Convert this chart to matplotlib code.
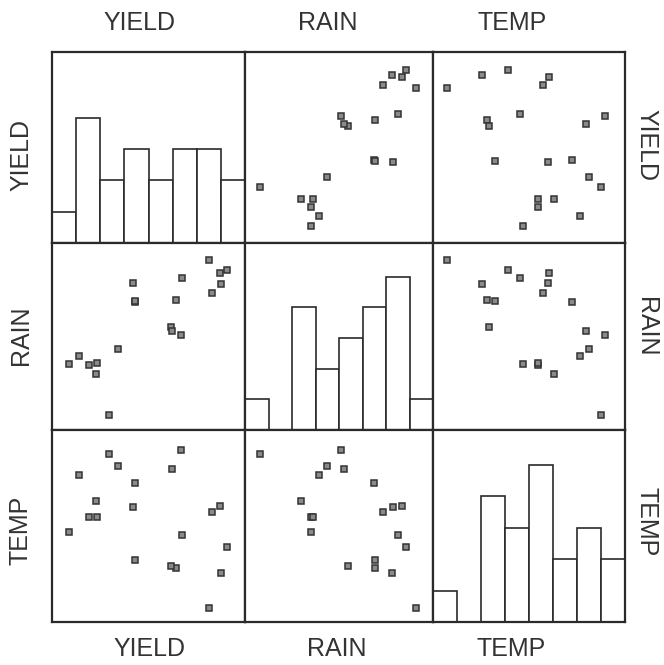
import matplotlib
matplotlib.use("Agg")
import matplotlib.pyplot as plt
import numpy as np

variables = ["YIELD", "RAIN", "TEMP"]

yield_vals = [0.811, 0.868, 0.907, 0.877, 0.828, 0.676, 0.644, 0.422, 0.432, 0.429,
              0.615, 0.621, 0.667, 0.343, 0.141, 0.089, 0.191, 0.232, 0.229, 0.293]
rain_vals = [0.910, 0.837, 0.855, 0.780, 0.735, 0.815, 0.693, 0.787, 0.686, 0.690,
             0.550, 0.527, 0.510, 0.435, 0.395, 0.352, 0.350, 0.360, 0.300, 0.080]
temp_vals = [0.075, 0.604, 0.391, 0.256, 0.574, 0.454, 0.279, 0.598, 0.725, 0.325,
             0.290, 0.795, 0.895, 0.813, 0.764, 0.468, 0.545, 0.548, 0.628, 0.877]

data = {"YIELD": yield_vals, "RAIN": rain_vals, "TEMP": temp_vals}
n_bins = 8

W, H = 664, 665
fig = plt.figure(figsize=(W / 100, H / 100), dpi=100)
fig.patch.set_facecolor("white")

col_edges = [52, 245, 433, 625]
row_edges = [52, 243, 430, 622]
ink = "#2a2a2a"

for r, vy in enumerate(variables):
    for c, vx in enumerate(variables):
        x0, x1 = col_edges[c], col_edges[c + 1]
        y0, y1 = row_edges[r], row_edges[r + 1]
        ax = fig.add_axes([x0 / W, 1 - y1 / H, (x1 - x0) / W, (y1 - y0) / H])
        ax.set_xlim(0, 1)
        ax.set_xticks([])
        ax.set_yticks([])
        for s in ax.spines.values():
            s.set_linewidth(1.6)
            s.set_color(ink)
        if r == c:
            vals = np.array(data[vx])
            counts, edges = np.histogram(vals, bins=n_bins, range=(0, 1))
            ax.bar(edges[:-1], counts, width=edges[1] - edges[0], align="edge",
                   facecolor="white", edgecolor=ink, linewidth=1.2)
            ax.set_ylim(0, 6.1)
        else:
            ax.plot(data[vx], data[vy], linestyle="none", marker="s", ms=4.2,
                    mfc="#8a8a8a", mec="#333333", mew=1.1)
            ax.set_ylim(0, 1)

tfont = dict(family="Liberation Sans", fontsize=18, color="#333333")
top_x = [139, 328, 512]
bot_x = [149, 337, 511]
left_y = [155, 335, 530]
right_y = [145, 327, 522]
for i, v in enumerate(variables):
    fig.text(top_x[i] / W, 1 - 23 / H, v, ha="center", va="center", **tfont)
    fig.text(bot_x[i] / W, 1 - 649 / H, v, ha="center", va="center", **tfont)
    fig.text(21 / W, 1 - left_y[i] / H, v, ha="center", va="center", rotation=90, **tfont)
    fig.text(646 / W, 1 - right_y[i] / H, v, ha="center", va="center", rotation=270, **tfont)

fig.savefig("out.png", dpi=100, facecolor="white")
